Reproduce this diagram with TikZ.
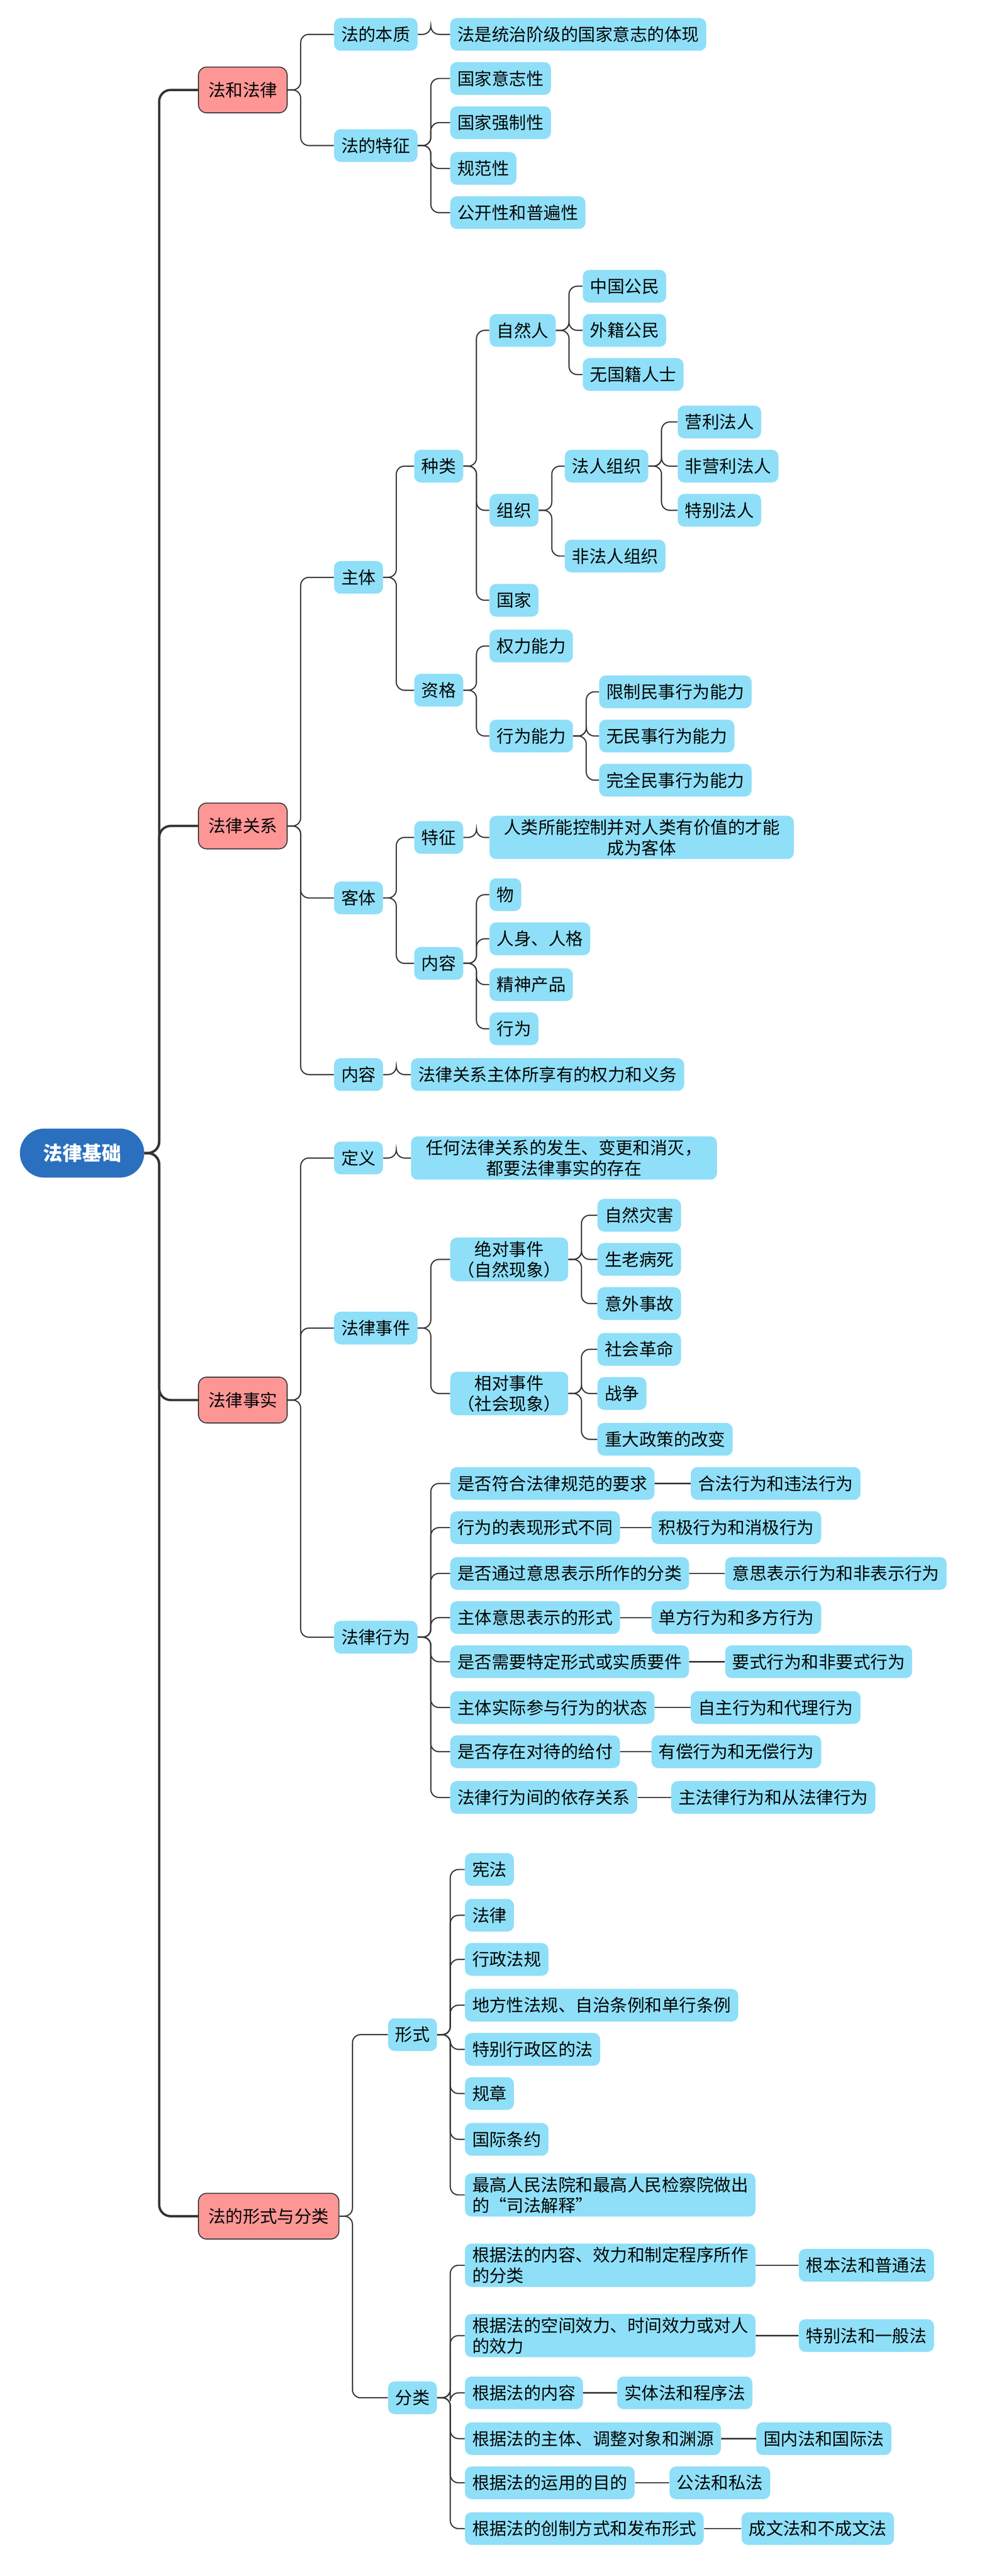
\documentclass[tikz,border=0pt]{standalone}
\usepackage{fontspec}
\setmainfont{Noto Sans CJK SC}
\usetikzlibrary{positioning}

\definecolor{leafblue}{HTML}{8FDFF8}
\definecolor{mainpink}{HTML}{FF9696}
\definecolor{rootblue}{HTML}{2A70BE}
\definecolor{linegray}{HTML}{333333}

\begin{document}
\begin{tikzpicture}[
    x=0.05cm,y=-0.05cm,
    font=\fontsize{15}{18}\selectfont,
    leaf/.style={rectangle,fill=leafblue,rounded corners=0.2cm,anchor=west,
        minimum height=1cm,inner xsep=0.22cm,inner ysep=0.1cm},
    leaf2/.style={leaf,align=left},
    leafc/.style={leaf,align=center},
    topic/.style={rectangle,draw=linegray,line width=0.8pt,fill=mainpink,
        rounded corners=0.25cm,anchor=west,minimum height=1.4cm,inner xsep=0.3cm},
    root/.style={rectangle,fill=rootblue,text=white,rounded corners=0.75cm,
        anchor=west,minimum height=1.5cm,minimum width=3.8cm,font=\fontsize{17}{20}\bfseries},
    fork/.style={to path={-- ++(#1,0) |- (\tikztotarget)}},
    conn/.style={draw=linegray,line width=1pt,rounded corners=0.25cm},
    trunk/.style={draw=linegray,line width=2pt,rounded corners=0.35cm}
  ]
  \useasboundingbox (0,0) rectangle (600,1575);

  % root and topics
  \node[root]  (base)   at (12,705)  {法律基础};
  \node[topic] (lawt)   at (121,55)  {法和法律};
  \node[topic] (rel)    at (121,505) {法律关系};
  \node[topic] (fact)   at (121,856) {法律事实};
  \node[topic] (form)   at (121,1355) {法的形式与分类};

  % 法和法律
  \node[leaf] (ess)  at (204,21) {法的本质};
  \node[leaf] (feat) at (204,89) {法的特征};
  \node[leaf] (ess1) at (275,21) {法是统治阶级的国家意志的体现};
  \node[leaf] (ft1)  at (275,48) {国家意志性};
  \node[leaf] (ft2)  at (275,75) {国家强制性};
  \node[leaf] (ft3)  at (275,103) {规范性};
  \node[leaf] (ft4)  at (275,130) {公开性和普遍性};

  % 法律关系
  \node[leaf] (subj) at (204,353) {主体};
  \node[leaf] (obj)  at (204,549) {客体};
  \node[leaf] (cont) at (204,657) {内容};
  \node[leaf] (kind) at (253,285) {种类};
  \node[leaf] (qual) at (253,422) {资格};
  \node[leaf] (nat)  at (299,202) {自然人};
  \node[leaf] (org)  at (299,312) {组织};
  \node[leaf] (state) at (299,367) {国家};
  \node[leaf] (nat1) at (356,175) {中国公民};
  \node[leaf] (nat2) at (356,202) {外籍公民};
  \node[leaf] (nat3) at (356,229) {无国籍人士};
  \node[leaf] (jur)  at (345,285) {法人组织};
  \node[leaf] (njur) at (345,340) {非法人组织};
  \node[leaf] (jur1) at (414,258) {营利法人};
  \node[leaf] (jur2) at (414,285) {非营利法人};
  \node[leaf] (jur3) at (414,312) {特别法人};
  \node[leaf] (rcap) at (299,395) {权力能力};
  \node[leaf] (acap) at (299,450) {行为能力};
  \node[leaf] (acap1) at (366,423) {限制民事行为能力};
  \node[leaf] (acap2) at (366,450) {无民事行为能力};
  \node[leaf] (acap3) at (366,477) {完全民事行为能力};
  \node[leaf] (ofeat) at (253,512) {特征};
  \node[leaf] (ocont) at (253,589) {内容};
  \node[leafc,minimum width=9.3cm] (ofeat1) at (299,512) {人类所能控制并对人类有价值的才能\\成为客体};
  \node[leaf] (oc1) at (299,547) {物};
  \node[leaf] (oc2) at (299,574) {人身、人格};
  \node[leaf] (oc3) at (299,602) {精神产品};
  \node[leaf] (oc4) at (299,629) {行为};
  \node[leaf] (cont1) at (251,657) {法律关系主体所享有的权力和义务};

  % 法律事实
  \node[leaf] (defn) at (204,708) {定义};
  \node[leaf] (event) at (204,812) {法律事件};
  \node[leaf] (act)  at (204,1001) {法律行为};
  \node[leafc,minimum width=9.35cm] (defn1) at (251,708) {任何法律关系的发生、变更和消灭，\\都要法律事实的存在};
  \node[leafc] (abs) at (275,770) {绝对事件\\（自然现象）};
  \node[leafc] (rela) at (275,852) {相对事件\\（社会现象）};
  \node[leaf] (abs1) at (365,743) {自然灾害};
  \node[leaf] (abs2) at (365,770) {生老病死};
  \node[leaf] (abs3) at (365,797) {意外事故};
  \node[leaf] (rel1) at (365,825) {社会革命};
  \node[leaf] (rel2) at (365,852) {战争};
  \node[leaf] (rel3) at (365,880) {重大政策的改变};
  \node[leaf] (ac1) at (275,907)  {是否符合法律规范的要求};
  \node[leaf] (ac2) at (275,934)  {行为的表现形式不同};
  \node[leaf] (ac3) at (275,962)  {是否通过意思表示所作的分类};
  \node[leaf] (ac4) at (275,989)  {主体意思表示的形式};
  \node[leaf] (ac5) at (275,1016) {是否需要特定形式或实质要件};
  \node[leaf] (ac6) at (275,1044) {主体实际参与行为的状态};
  \node[leaf] (ac7) at (275,1071) {是否存在对待的给付};
  \node[leaf] (ac8) at (275,1099) {法律行为间的依存关系};
  \node[leaf] (ar1) at (422,907)  {合法行为和违法行为};
  \node[leaf] (ar2) at (398,934)  {积极行为和消极行为};
  \node[leaf] (ar3) at (443,962)  {意思表示行为和非表示行为};
  \node[leaf] (ar4) at (398,989)  {单方行为和多方行为};
  \node[leaf] (ar5) at (443,1016) {要式行为和非要式行为};
  \node[leaf] (ar6) at (422,1044) {自主行为和代理行为};
  \node[leaf] (ar7) at (398,1071) {有偿行为和无偿行为};
  \node[leaf] (ar8) at (410,1099) {主法律行为和从法律行为};

  % 法的形式与分类
  \node[leaf] (shape) at (237,1244) {形式};
  \node[leaf] (cls)   at (237,1466) {分类};
  \node[leaf] (sh1) at (284,1143) {宪法};
  \node[leaf] (sh2) at (284,1171) {法律};
  \node[leaf] (sh3) at (284,1198) {行政法规};
  \node[leaf] (sh4) at (284,1226) {地方性法规、自治条例和单行条例};
  \node[leaf] (sh5) at (284,1253) {特别行政区的法};
  \node[leaf] (sh6) at (284,1280) {规章};
  \node[leaf] (sh7) at (284,1308) {国际条约};
  \node[leaf2] (sh8) at (284,1342) {最高人民法院和最高人民检察院做出\\的“司法解释”};
  \node[leaf2] (cl1) at (284,1385) {根据法的内容、效力和制定程序所作\\的分类};
  \node[leaf2] (cl2) at (284,1428) {根据法的空间效力、时间效力或对人\\的效力};
  \node[leaf] (cl3) at (284,1463) {根据法的内容};
  \node[leaf] (cl4) at (284,1491) {根据法的主体、调整对象和渊源};
  \node[leaf] (cl5) at (284,1518) {根据法的运用的目的};
  \node[leaf] (cl6) at (284,1546) {根据法的创制方式和发布形式};
  \node[leaf] (cr1) at (488,1385) {根本法和普通法};
  \node[leaf] (cr2) at (488,1428) {特别法和一般法};
  \node[leaf] (cr3) at (377,1463) {实体法和程序法};
  \node[leaf] (cr4) at (462,1491) {国内法和国际法};
  \node[leaf] (cr5) at (409,1518) {公法和私法};
  \node[leaf] (cr6) at (453,1546) {成文法和不成文法};

  % connectors
  \foreach \t in {lawt,rel,fact,form}
    \draw[trunk] (base.east) to[fork=9] (\t.west);
  \foreach \p/\c in {lawt/ess,lawt/feat,ess/ess1,feat/ft1,feat/ft2,feat/ft3,feat/ft4,
      rel/subj,rel/obj,rel/cont,subj/kind,subj/qual,kind/nat,kind/org,kind/state,
      nat/nat1,nat/nat2,nat/nat3,org/jur,org/njur,jur/jur1,jur/jur2,jur/jur3,
      qual/rcap,qual/acap,acap/acap1,acap/acap2,acap/acap3,obj/ofeat,obj/ocont,
      ofeat/ofeat1,ocont/oc1,ocont/oc2,ocont/oc3,ocont/oc4,cont/cont1,
      fact/defn,fact/event,fact/act,defn/defn1,event/abs,event/rela,
      abs/abs1,abs/abs2,abs/abs3,rela/rel1,rela/rel2,rela/rel3,
      form/shape,form/cls}
    \draw[conn] (\p.east) to[fork=8] (\c.west);
  \foreach \i in {1,...,8} {
    \draw[conn] (act.east) to[fork=8] (ac\i.west);
    \draw[conn] (ac\i.east) -- (ar\i.west);
    \draw[conn] (shape.east) to[fork=8] (sh\i.west);
  }
  \foreach \i in {1,...,6} {
    \draw[conn] (cls.east) to[fork=8] (cl\i.west);
    \draw[conn] (cl\i.east) -- (cr\i.west);
  }
\end{tikzpicture}
\end{document}
